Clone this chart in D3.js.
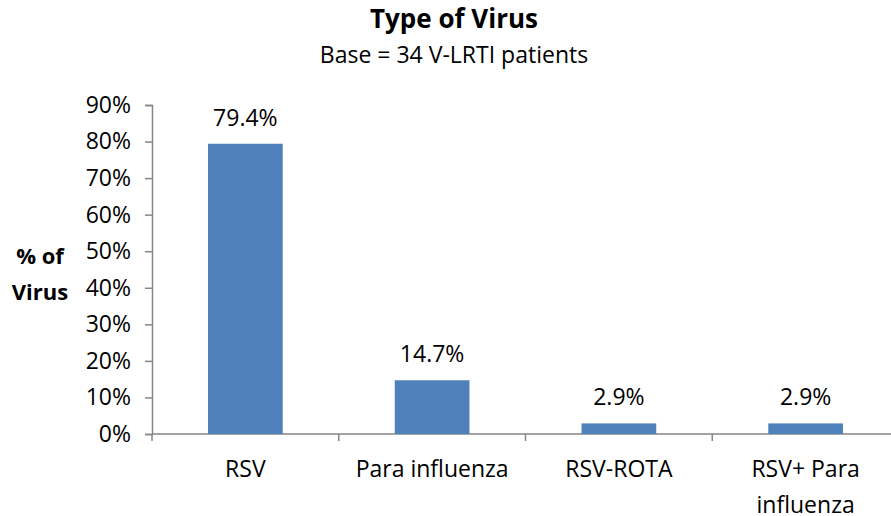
<!DOCTYPE html>
<html>
<head>
<meta charset="utf-8">
<script src="https://cdn.jsdelivr.net/npm/d3@7"></script>
<style>
  body { margin: 0; background: #fff; }
  svg { display: block; font-family: "Open Sans", sans-serif; }
</style>
</head>
<body>
<div id="chart"></div>
<script>
// data
var categories = ['RSV', 'Para influenza', 'RSV-ROTA', 'RSV+ Para|influenza'];
var values = [79.4, 14.7, 2.9, 2.9];
var yTicks = [0, 10, 20, 30, 40, 50, 60, 70, 80, 90];

var width = 891, height = 516;
var plotLeft = 152, plotRight = 899, plotTop = 105, plotBottom = 434;
var font = '"Open Sans", sans-serif';

var svg = d3.select('#chart').append('svg').attr('width', width).attr('height', height);

var x = d3.scaleBand().domain(categories).range([plotLeft, plotRight]).paddingInner(0.6).paddingOuter(0.3);
var y = d3.scaleLinear().domain([0, 90]).range([plotBottom, plotTop]);
var step = x.step();

// title
svg.append('text').attr('x', 454).attr('y', 28).attr('text-anchor', 'middle')
    .attr('font-size', 26).attr('font-weight', 'bold').text('Type of Virus');
svg.append('text').attr('x', 454).attr('y', 63).attr('text-anchor', 'middle')
    .attr('font-size', 23).text('Base = 34 V-LRTI patients');

// y axis
var yAxis = d3.axisLeft(y).tickValues(yTicks).tickSize(7).tickPadding(14)
    .tickFormat(function(d) { return d + '%'; });
var gy = svg.append('g').attr('transform', 'translate(' + plotLeft + ',0)').call(yAxis);
gy.select('.domain').attr('stroke', '#868686').attr('stroke-width', 1.5);
gy.selectAll('.tick line').attr('stroke', '#868686').attr('stroke-width', 1.5);
gy.selectAll('.tick text').attr('font-size', 23).attr('fill', '#000')
    .attr('font-family', font);

// y label
svg.append('text').attr('x', 40).attr('y', 264).attr('text-anchor', 'middle')
    .attr('font-size', 22).attr('font-weight', 'bold').text('% of');
svg.append('text').attr('x', 40).attr('y', 300).attr('text-anchor', 'middle')
    .attr('font-size', 22).attr('font-weight', 'bold').text('Virus');

// x axis line and boundary ticks
svg.append('line').attr('x1', plotLeft).attr('x2', plotRight).attr('y1', plotBottom).attr('y2', plotBottom)
    .attr('stroke', '#868686').attr('stroke-width', 1.5);
var bounds = categories.map(function(c) { return x(c) - step * 0.3; }).concat([plotRight]);
svg.selectAll('.xtick').data(bounds).enter().append('line').attr('class', 'xtick')
    .attr('x1', function(d) { return d; }).attr('x2', function(d) { return d; })
    .attr('y1', plotBottom).attr('y2', plotBottom + 7)
    .attr('stroke', '#868686').attr('stroke-width', 1.5);

// bars
svg.selectAll('.bar').data(values).enter().append('rect').attr('class', 'bar')
    .attr('x', function(d, i) { return x(categories[i]); })
    .attr('width', x.bandwidth())
    .attr('y', function(d) { return y(d); })
    .attr('height', function(d) { return y(0) - y(d); })
    .attr('fill', '#4F81BD');

// value labels
svg.selectAll('.val').data(values).enter().append('text').attr('class', 'val')
    .attr('x', function(d, i) { return x(categories[i]) + x.bandwidth() / 2; })
    .attr('y', function(d) { return y(d) - 18; })
    .attr('text-anchor', 'middle').attr('font-size', 23)
    .text(function(d) { return d.toFixed(1) + '%'; });

// category labels
var cat = svg.selectAll('.cat').data(categories).enter().append('text').attr('class', 'cat')
    .attr('text-anchor', 'middle').attr('font-size', 23);
cat.selectAll('tspan').data(function(d) {
        var cx = x(d) + x.bandwidth() / 2;
        return d.split('|').map(function(s) { return { s: s, cx: cx }; });
    }).enter().append('tspan')
    .attr('x', function(d) { return d.cx; })
    .attr('y', function(d, i) { return 477 + i * 36; })
    .text(function(d) { return d.s; });
</script>
</body>
</html>
